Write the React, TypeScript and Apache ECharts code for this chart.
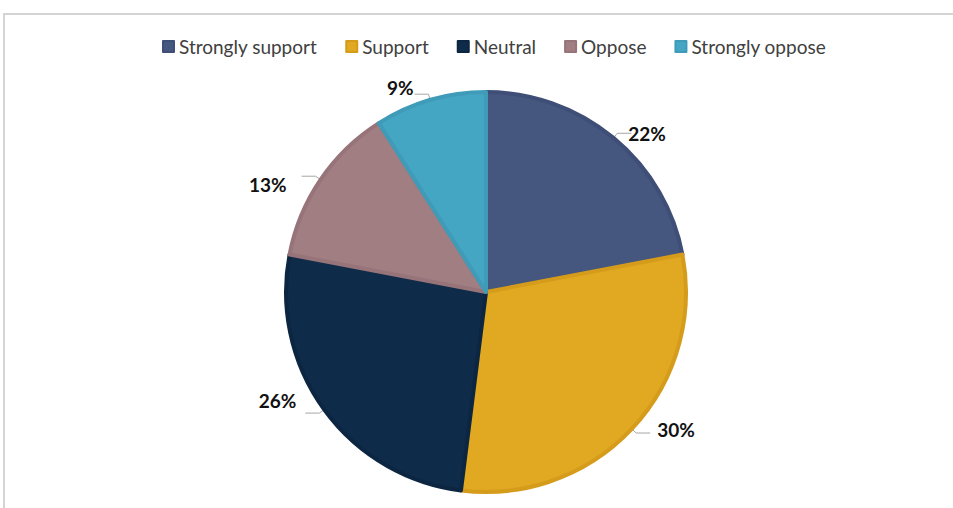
import React, { useEffect, useRef } from "react";
import * as echarts from "echarts";

const categories = ["Strongly support", "Support", "Neutral", "Oppose", "Strongly oppose"];
const values = [22, 30, 26, 13, 9];
const colors = ["#45567f", "#e1a822", "#0f2b4a", "#a17e82", "#45a6c3"];
const borderColors = ["#3e4e76", "#d59c1c", "#0c2642", "#977479", "#3f9bb8"];
const labelShiftX = [-8, 2, -4, -10, 4];
const labelShiftY = [0, -4, -13, 8, -7];

export default function App() {
  const ref = useRef<HTMLDivElement>(null);
  useEffect(() => {
    document.body.style.margin = "0";
    const chart = echarts.init(ref.current!, null, { renderer: "svg" });
    chart.setOption({
      animation: false,
      backgroundColor: "#ffffff",
      graphic: [
        {
          type: "rect",
          shape: { x: 4, y: 14, width: 1000, height: 600 },
          style: { fill: "none", stroke: "#d4d4d4", lineWidth: 2 },
          silent: true,
        },
      ],
      legend: {
        top: 32,
        left: 157,
        itemWidth: 11,
        itemHeight: 11,
        itemGap: 28,
        icon: "rect",
        textStyle: { fontFamily: "Lato", fontSize: 19, color: "#404040" },
        data: categories,
      },
      series: [
        {
          type: "pie",
          center: [486, 292],
          radius: 200,
          startAngle: 90,
          clockwise: true,
          data: categories.map((name, i) => ({
            name,
            value: values[i],
            itemStyle: { color: colors[i], borderColor: borderColors[i], borderWidth: 4 },
          })),
          label: {
            show: true,
            position: "outside",
            formatter: (p: any) => p.value + "%",
            fontFamily: "Lato",
            fontWeight: "bold",
            fontSize: 19,
            color: "#111111",
          },
          labelLine: {
            show: true,
            length: 6,
            length2: 14,
            lineStyle: { color: "#a6a6a6", width: 1 },
          },
          labelLayout: (p: any) => ({
            dx: labelShiftX[p.dataIndex],
            dy: labelShiftY[p.dataIndex],
          }),
        },
      ],
    });
    return () => chart.dispose();
  }, []);
  return <div ref={ref} style={{ position: "absolute", left: 0, top: 0, width: 953, height: 508 }} />;
}
